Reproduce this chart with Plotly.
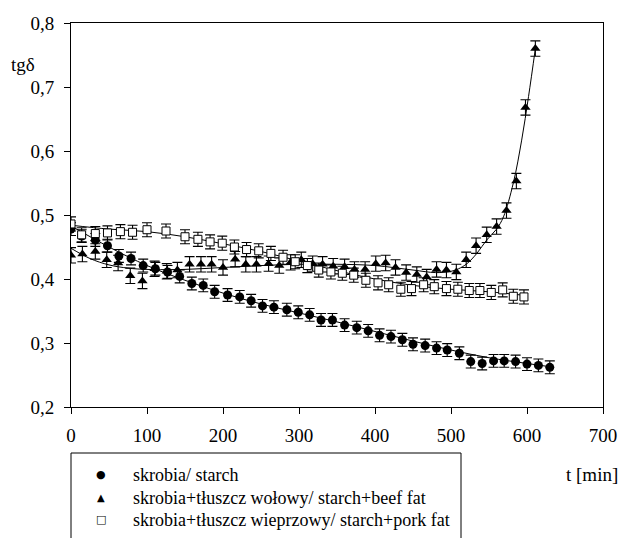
import plotly.graph_objects as go

# ---- data ----
starch_t = [0, 14, 32, 48, 63, 79, 95, 111, 127, 143, 159, 174, 189, 206, 222, 237, 252, 267,
            284, 299, 314, 329, 344, 360, 376, 391, 406, 421, 436, 450, 466, 481, 495, 511,
            526, 541, 556, 570, 585, 600, 615, 630]
starch_v = [0.478, 0.467, 0.461, 0.452, 0.436, 0.432, 0.421, 0.416, 0.411, 0.404, 0.393, 0.390,
            0.380, 0.375, 0.372, 0.366, 0.358, 0.356, 0.352, 0.348, 0.344, 0.336, 0.336, 0.328,
            0.324, 0.319, 0.312, 0.310, 0.305, 0.298, 0.296, 0.292, 0.289, 0.284, 0.271, 0.268,
            0.272, 0.272, 0.271, 0.267, 0.265, 0.262]

beef_t = [0, 15, 32, 47, 62, 78, 94, 110, 126, 140, 156, 171, 185, 200, 216, 230, 244, 260,
          274, 289, 303, 318, 331, 345, 360, 373, 387, 401, 414, 427, 441, 455, 468, 481, 494,
          507, 520, 533, 547, 560, 573, 586, 598, 611]
beef_v = [0.437, 0.439, 0.443, 0.430, 0.425, 0.405, 0.397, 0.416, 0.412, 0.414, 0.423, 0.423,
          0.423, 0.418, 0.431, 0.423, 0.423, 0.424, 0.421, 0.426, 0.430, 0.424, 0.423, 0.420,
          0.419, 0.415, 0.415, 0.424, 0.425, 0.418, 0.410, 0.407, 0.403, 0.415, 0.414, 0.411,
          0.430, 0.452, 0.469, 0.482, 0.507, 0.553, 0.668, 0.760]

pork_t = [0, 14, 32, 48, 65, 81, 100, 125, 150, 167, 183, 199, 215, 231, 247, 263, 279, 295,
          311, 326, 342, 357, 372, 388, 404, 418, 434, 448, 464, 478, 494, 509, 524, 538, 553,
          568, 582, 596]
pork_v = [0.486, 0.469, 0.471, 0.472, 0.474, 0.473, 0.477, 0.475, 0.466, 0.462, 0.458, 0.456,
          0.450, 0.446, 0.444, 0.440, 0.434, 0.427, 0.421, 0.414, 0.411, 0.409, 0.406, 0.398,
          0.394, 0.391, 0.384, 0.385, 0.391, 0.388, 0.385, 0.384, 0.382, 0.382, 0.379, 0.383,
          0.373, 0.372]

# error bars (standard deviation)
starch_err = 0.010
beef_err = 0.012
pork_err = 0.011

# fitted curves
starch_fit_t = [0, 50, 100, 150, 200, 250, 300, 350, 400, 450, 500, 550, 600, 630]
starch_fit_v = [0.483, 0.450, 0.421, 0.398, 0.378, 0.361, 0.347, 0.333, 0.318, 0.303, 0.289,
                0.277, 0.268, 0.263]
beef_fit_t = [0, 25, 50, 75, 100, 150, 200, 250, 300, 350, 400, 450, 480, 500, 510, 521, 534,
              547, 560, 569, 582, 593, 602, 611]
beef_fit_v = [0.448, 0.432, 0.422, 0.417, 0.415, 0.415, 0.418, 0.421, 0.423, 0.423, 0.421,
              0.414, 0.410, 0.412, 0.416, 0.424, 0.440, 0.461, 0.478, 0.497, 0.550, 0.617,
              0.685, 0.760]
pork_fit_t = [0, 50, 100, 150, 200, 250, 300, 350, 400, 450, 500, 550, 600]
pork_fit_v = [0.484, 0.478, 0.474, 0.466, 0.455, 0.443, 0.428, 0.413, 0.400, 0.390, 0.384,
              0.380, 0.374]

names = ["skrobia/ starch",
         "skrobia+tłuszcz wołowy/ starch+beef fat",
         "skrobia+tłuszcz wieprzowy/ starch+pork fat"]
legend_glyphs = ["●", "▲", "□"]

x_ticks = [0, 100, 200, 300, 400, 500, 600, 700]
y_ticks = [0.2, 0.3, 0.4, 0.5, 0.6, 0.7, 0.8]

FONT = "'Liberation Serif', 'Times New Roman', Times, 'DejaVu Serif', serif"

# plot-area geometry (pixels) used to place paper-referenced decorations
L, R, T, B = 71, 603, 23, 407
W, H = R - L, B - T
def px(xp):
    return (xp - L) / W
def py(yp):
    return (B - yp) / H

fig = go.Figure()

line_style = dict(color="black", width=1)
for ft, fv in [(starch_fit_t, starch_fit_v), (beef_fit_t, beef_fit_v), (pork_fit_t, pork_fit_v)]:
    fig.add_trace(go.Scatter(x=ft, y=fv, mode="lines", line=dict(line_style, shape="spline"),
                             showlegend=False, hoverinfo="skip"))

def err(v):
    return dict(type="constant", value=v, color="black", thickness=1.1, width=5)

fig.add_trace(go.Scatter(x=starch_t, y=starch_v, mode="markers", name=names[0],
                         marker=dict(symbol="circle", size=9, color="black"),
                         error_y=err(starch_err)))
fig.add_trace(go.Scatter(x=beef_t, y=beef_v, mode="markers", name=names[1],
                         marker=dict(symbol="triangle-up", size=9, color="black"),
                         error_y=err(beef_err)))
fig.add_trace(go.Scatter(x=pork_t, y=pork_v, mode="markers", name=names[2],
                         marker=dict(symbol="square", size=8, color="white",
                                     line=dict(color="black", width=1)),
                         error_y=err(pork_err)))

axis_common = dict(showline=True, linecolor="black", linewidth=1, mirror=True,
                   ticks="outside", ticklen=6, tickcolor="black", tickwidth=1,
                   showgrid=False, zeroline=False, automargin=False,
                   tickfont=dict(family=FONT, size=19, color="black"))

annotations = [
    dict(text="tgδ", xref="paper", yref="paper", x=px(23), y=py(64),
         xanchor="center", yanchor="middle",
         showarrow=False, font=dict(family=FONT, size=19, color="black")),
    dict(text="t [min]", xref="paper", yref="paper", x=px(592), y=py(474),
         xanchor="center", yanchor="middle",
         showarrow=False, font=dict(family=FONT, size=19, color="black")),
]
row_y = [474.5, 497.5, 519.5]
glyph_sizes = [11, 10, 11]
for nm, g, gs, ry in zip(names, legend_glyphs, glyph_sizes, row_y):
    annotations.append(dict(text=g, xref="paper", yref="paper", x=px(101), y=py(ry),
                            showarrow=False, xanchor="center", yanchor="middle",
                            font=dict(family="DejaVu Sans", size=gs, color="black")))
    annotations.append(dict(text=nm, xref="paper", yref="paper", x=px(131), y=py(ry),
                            showarrow=False, xanchor="left", yanchor="middle",
                            font=dict(family=FONT, size=18, color="black")))

fig.update_layout(
    width=621, height=538,
    margin=dict(l=L, r=621 - R, t=T, b=538 - B, autoexpand=False),
    paper_bgcolor="white", plot_bgcolor="white",
    separators=",.",
    xaxis=dict(axis_common, range=[0, 700], tickvals=x_ticks, ticklabelstandoff=5),
    yaxis=dict(axis_common, range=[0.2, 0.8], tickvals=y_ticks, tickformat=".1f",
               ticklabelstandoff=6),
    font=dict(family=FONT, size=18, color="black"),
    showlegend=False,
    shapes=[dict(type="rect", xref="paper", yref="paper",
                 x0=0, x1=px(461), y0=py(570), y1=py(453),
                 line=dict(color="black", width=1))],
    annotations=annotations,
)

fig.write_html("out.html", config={"displayModeBar": False},
               post_script="document.body.style.margin='0';document.body.style.overflow='hidden';")
